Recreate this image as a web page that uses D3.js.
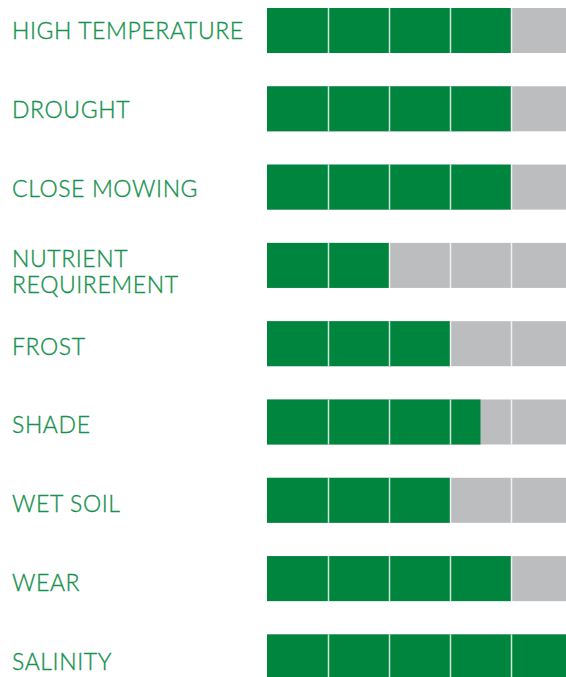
<!DOCTYPE html>
<html>
<head>
<meta charset="utf-8">
<script src="https://cdn.jsdelivr.net/npm/d3@7"></script>
<style>
    body { margin: 0; background: #fff; }
    svg { display: block; }
</style>
</head>
<body>
<div id="chart"></div>
<script>
// ratings out of 5
var traits = ["HIGH TEMPERATURE", "DROUGHT", "CLOSE MOWING", "NUTRIENT\nREQUIREMENT",
    "FROST", "SHADE", "WET SOIL", "WEAR", "SALINITY"];
var ratings = [4, 4, 4, 2, 3, 3.5, 3, 4, 5];
var steps = [1, 2, 3, 4];

drawChart();

function drawChart() {
    var width = 566,
        height = 677;

    var svg = d3.select("#chart")
        .append("svg")
        .attr("width", width)
        .attr("height", height);

    var data = traits.map(function (t, i) { return { name: t, value: ratings[i], i: i }; });

    // x: rating scale, 5 cells of ~61px
    var x = d3.scaleLinear()
        .domain([0, 5])
        .range([267, 572]);

    // y: one band per trait
    var y = d3.scaleBand()
        .domain(traits)
        .range([-8.65, 696.05])
        .paddingInner(0.425)
        .paddingOuter(0.2125);

    // label baselines drift a little slower than the bars
    var yText = d3.scaleLinear()
        .domain([0, 8])
        .range([39.4, 669.6]);

    var rows = svg.selectAll(".row")
        .data(data)
        .enter()
        .append("g")
        .attr("class", "row")
        .attr("transform", function (d) { return "translate(0," + y(d.name) + ")"; });

    // grey background
    rows.append("rect")
        .attr("x", x(0))
        .attr("y", 0)
        .attr("width", x(5) - x(0))
        .attr("height", y.bandwidth())
        .attr("fill", "#bcbdbf");

    // green rating
    rows.append("rect")
        .attr("x", x(0))
        .attr("y", 0)
        .attr("width", function (d) { return x(d.value) - x(0); })
        .attr("height", y.bandwidth())
        .attr("fill", "#00853f");

    // cell dividers
    rows.selectAll("line")
        .data(steps)
        .enter()
        .append("line")
        .attr("x1", function (s) { return x(s) + 0.5; })
        .attr("x2", function (s) { return x(s) + 0.5; })
        .attr("y1", 0)
        .attr("y2", y.bandwidth())
        .attr("stroke", "#ffffff")
        .attr("stroke-opacity", 0.8)
        .attr("stroke-width", 1.5);

    // labels
    svg.selectAll(".label")
        .data(data)
        .enter()
        .append("text")
        .attr("class", "label")
        .attr("x", 12)
        .attr("fill", "#16914e")
        .attr("stroke", "#16914e")
        .attr("stroke-width", 0.35)
        .style("font-family", "Lato, 'Open Sans', sans-serif")
        .style("font-size", "23px")
        .style("font-weight", 300)
        .style("letter-spacing", "0.6px")
        .each(function (d) {
            var lines = d.name.split("\n");
            var t = d3.select(this);
            var first = yText(d.i) - (lines.length > 1 ? 8.6 : 0);
            lines.forEach(function (l, i) {
                t.append("tspan")
                    .attr("x", 12)
                    .attr("y", first + i * 25.4)
                    .text(l);
            });
        });
}
</script>
</body>
</html>
